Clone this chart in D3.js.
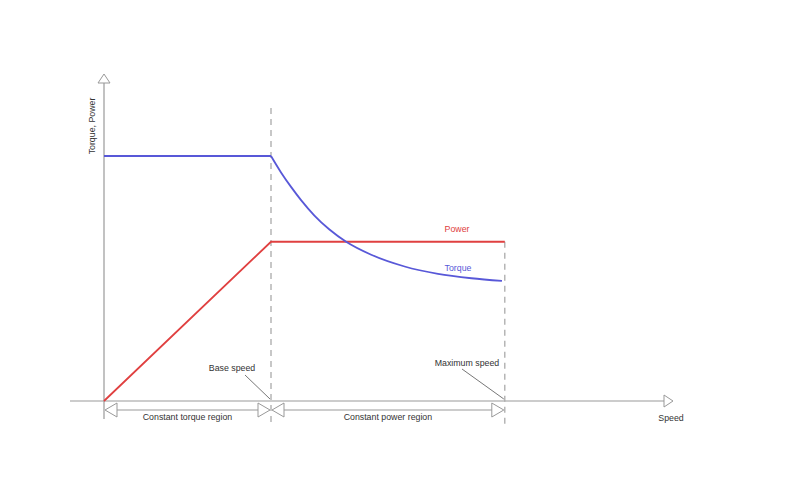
<!DOCTYPE html>
<html><head><meta charset="utf-8">
<script src="https://cdn.jsdelivr.net/npm/d3@7"></script>
<style>body{margin:0;background:#fff}svg{display:block}text{font-family:Arial,"Liberation Sans",sans-serif}</style>
</head><body>
<svg id="c" width="800" height="501"></svg>
<script>
// Data (speed in rpm-like units, torque/power in % of rated)
const baseSpeed = 1000;
const maxSpeed = 2400;
const ratedTorque = 100;
const ratedPower = 65;
const torqueFlat = [[0, 100], [1000, 100]];
const torqueFalloff = [[1000, 100], [1060, 93.3], [1120, 87.4], [1180, 82.0], [1260, 75.7], [1350, 70.0], [1450, 65.0], [1600, 59.7], [1800, 54.9], [2000, 51.9], [2200, 50.1], [2383, 49.0]];
const powerCurve = [[0, 0], [1000, 65], [2400, 65]];
const regions = [
  {from: 0, to: 1000, label: "Constant torque region"},
  {from: 1000, to: 2400, label: "Constant power region"}
];
const axisLabels = {x: "Speed", y: "Torque, Power"};

const svg = d3.select("#c");
const x = d3.scaleLinear().domain([0, 1000]).range([104, 271]);
const y = d3.scaleLinear().domain([0, 100]).range([401, 156]);
const axisCol = "#999", dashCol = "#aaa";
const blue = "#5858d8", red = "#e04040";
const fs = 8.8;

// axes
const xStart = x.invert(70), xEnd = x.invert(664);
svg.append("line").attr("x1", x(xStart)).attr("x2", x(xEnd)).attr("y1", y(0)).attr("y2", y(0)).attr("stroke", axisCol).attr("stroke-width", 1.2);
svg.append("line").attr("x1", x(0)).attr("x2", x(0)).attr("y1", 419).attr("y2", 83).attr("stroke", axisCol).attr("stroke-width", 1.2);
// arrow heads (hollow)
function tri(pts){ svg.append("path").attr("d", "M" + pts.map(p => p.join(",")).join("L") + "Z").attr("fill", "#fff").attr("stroke", axisCol).attr("stroke-width", 1); }
tri([[x(0) - 6, 83], [x(0) + 6, 83], [x(0), 74]]);
tri([[664, y(0) - 6], [664, y(0) + 6], [673, y(0)]]);

// dashed guides
svg.append("line").attr("x1", x(baseSpeed)).attr("x2", x(baseSpeed)).attr("y1", 108).attr("y2", 424).attr("stroke", dashCol).attr("stroke-width", 1.3).attr("stroke-dasharray", "6,5");
svg.append("line").attr("x1", x(maxSpeed)).attr("x2", x(maxSpeed)).attr("y1", y(ratedPower)).attr("y2", 424).attr("stroke", dashCol).attr("stroke-width", 1.3).attr("stroke-dasharray", "6,5");

// region arrows
const ry = 410;
regions.forEach(r => {
  const a = x(r.from), b = x(r.to);
  svg.append("line").attr("x1", a + 12).attr("x2", b - 12).attr("y1", ry).attr("y2", ry).attr("stroke", axisCol).attr("stroke-width", 1.1);
  tri([[a + 13, ry - 7], [a + 13, ry + 7], [a + 1, ry]]);
  tri([[b - 13, ry - 7], [b - 13, ry + 7], [b - 1, ry]]);
  svg.append("text").attr("x", (a + b) / 2).attr("y", 420).attr("text-anchor", "middle").attr("font-size", fs).attr("fill", "#333").text(r.label);
});

// curves
const line = d3.line().x(d => x(d[0])).y(d => y(d[1]));
svg.append("path").attr("d", line(powerCurve)).attr("fill", "none").attr("stroke", red).attr("stroke-width", 1.8);
svg.append("path").attr("d", line(torqueFlat)).attr("fill", "none").attr("stroke", blue).attr("stroke-width", 1.8);
svg.append("path").attr("d", line.curve(d3.curveMonotoneX)(torqueFalloff)).attr("fill", "none").attr("stroke", blue).attr("stroke-width", 1.8);

// labels
svg.append("text").attr("x", 457).attr("y", 232).attr("text-anchor", "middle").attr("font-size", fs).attr("fill", red).text("Power");
svg.append("text").attr("x", 458).attr("y", 271).attr("text-anchor", "middle").attr("font-size", fs).attr("fill", blue).text("Torque");
svg.append("text").attr("x", 671).attr("y", 421).attr("text-anchor", "middle").attr("font-size", fs).attr("fill", "#333").text(axisLabels.x);
svg.append("text").attr("transform", "translate(95,126) rotate(-90)").attr("text-anchor", "middle").attr("font-size", fs).attr("fill", "#333").text(axisLabels.y);

// annotations
svg.append("text").attr("x", 232).attr("y", 371).attr("text-anchor", "middle").attr("font-size", fs).attr("fill", "#333").text("Base speed");
svg.append("line").attr("x1", 245).attr("y1", 375).attr("x2", x(baseSpeed) - 1).attr("y2", y(0) - 2).attr("stroke", "#777").attr("stroke-width", 1);
svg.append("text").attr("x", 467).attr("y", 366).attr("text-anchor", "middle").attr("font-size", fs).attr("fill", "#333").text("Maximum speed");
svg.append("line").attr("x1", 462).attr("y1", 369).attr("x2", x(maxSpeed) - 1).attr("y2", y(0) - 2).attr("stroke", "#777").attr("stroke-width", 1);
</script>
</body></html>
